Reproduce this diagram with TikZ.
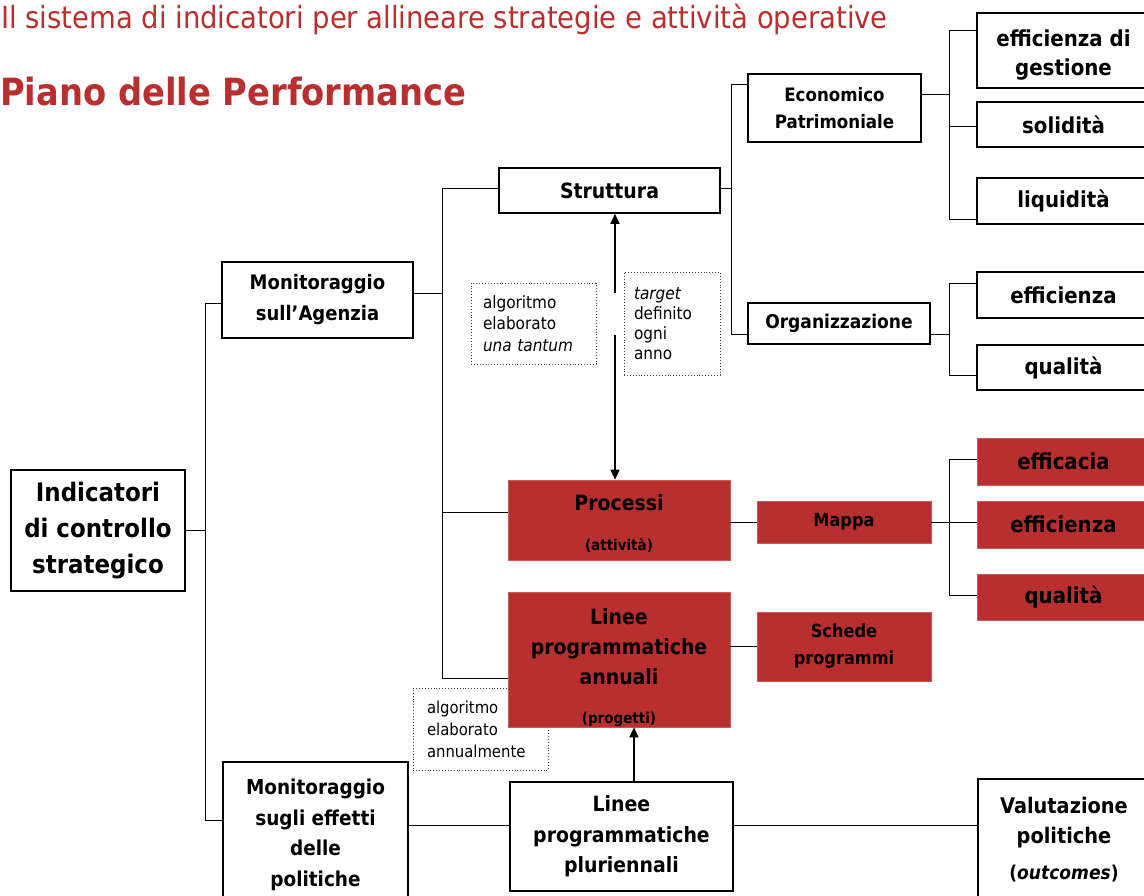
\documentclass[tikz,border=0pt]{standalone}
\usepackage{fontspec}
\setmainfont{DejaVu Sans Condensed}
\usetikzlibrary{arrows.meta}
\definecolor{pred}{RGB}{185,47,47}
\newcommand{\fs}[2]{\fontsize{#1}{#2}\selectfont}
\begin{document}
\begin{tikzpicture}[x=1pt,y=-1pt,
  f/.style n args={2}{font=\bfseries\fontsize{#1}{#2}\selectfont},
  wbox/.style={draw=black,line width=1.6pt,fill=white,align=center,inner sep=0pt},
  rbox/.style={draw=pred!80!white,line width=0.6pt,fill=pred,align=center,inner sep=0pt},
  txt/.style={align=center,inner sep=0pt},
  note/.style={draw=black!75,dotted,line width=0.9pt,align=left,inner ysep=0pt,font=\fontsize{17}{21.5}\selectfont},
  conn/.style={line width=1pt,black},
  arr/.style={line width=1.5pt,black,-{Triangle[length=10pt,width=9pt]}},
  ]
\useasboundingbox (0,0) rectangle (1144,895);
\clip (0,0) rectangle (1144,895);

% titles
\node[anchor=base west,inner sep=0pt,text=pred,font=\fontsize{30.5}{34}\selectfont] (t1) at (1,28)
  {Il sistema di indicatori per allineare strategie e attività operative};
\node[anchor=base west,inner sep=0pt,text=pred,font=\bfseries\fontsize{37.5}{42}\selectfont] (t2) at (0,105)
  {Piano delle Performance};

% notes (behind boxes)
\node[note,inner xsep=12pt,text width=101,minimum height=81] (n1) at (533.5,323.5) {algoritmo\\elaborato\\\textit{una tantum}};
\node[note,inner xsep=10pt,text width=76,minimum height=103,font=\fontsize{17}{20}\selectfont] (n2) at (672,323.5) {\textit{target}\\definito\\ogni\\anno};
\node[note,inner xsep=14pt,text width=107,minimum height=82,font=\fontsize{16.5}{22}\selectfont] (n3) at (480.5,729) {algoritmo\\elaborato\\annualmente};

% white boxes
\node[wbox,f={25.5}{36},minimum width=174,minimum height=121] (ind) at (98,530.5) {Indicatori\\di controllo\\strategico};
\node[wbox,f={20}{31},minimum width=191,minimum height=76] (mon1) at (317.5,300) {Monitoraggio\\sull’Agenzia};
\node[wbox,f={20.5}{30.5},minimum width=185,minimum height=146] (mon2) at (315.5,835) {Monitoraggio\\sugli effetti\\delle\\politiche};
\node[wbox,f={21}{28},minimum width=221,minimum height=45] (str) at (609.5,190.5) {Struttura};
\node[wbox,f={18.5}{27},minimum width=173,minimum height=68] (eco) at (834.5,108) {Economico\\Patrimoniale};
\node[wbox,f={19}{25},minimum width=182,minimum height=41] (org) at (839,323.5) {Organizzazione};
\node[wbox,minimum width=173,minimum height=75] (egest) at (1063.5,50.5) {};
\node[txt,f={22}{29}] (egestt) at (1063.5,55.5) {efficienza di\\gestione};
\node[wbox,f={22}{29},minimum width=173,minimum height=45] (sol) at (1063.5,124.5) {solidità};
\node[wbox,f={22}{29},minimum width=173,minimum height=46] (liq) at (1063.5,201) {liquidità};
\node[wbox,f={22}{29},minimum width=173,minimum height=46] (eff1) at (1063.5,295) {efficienza};
\node[wbox,f={22}{29},minimum width=173,minimum height=45] (qual1) at (1063.5,367.5) {qualità};
\node[wbox,f={21}{30.5},minimum width=223,minimum height=109] (lpp) at (621.5,836.5) {Linee\\programmatiche\\pluriennali};
\node[wbox,f={21.5}{30},minimum width=172,minimum height=121] (val) at (1064,839.5) {Valutazione\\politiche\\[6pt]{\fs{19}{22}(\textit{outcomes})}};

% red boxes
\node[rbox,minimum width=222,minimum height=80] (proc) at (619,520) {};
\node[txt,f={21}{28}] (proct) at (619,524) {Processi\\[12pt]{\fs{15}{18}(attività)}};
\node[rbox,f={18}{24},minimum width=174,minimum height=42] (mappa) at (844,522) {Mappa};
\node[rbox,f={22}{29},minimum width=173,minimum height=47] (effic) at (1063.5,461.5) {efficacia};
\node[rbox,f={22}{29},minimum width=173,minimum height=47] (eff2) at (1063.5,524.5) {efficienza};
\node[rbox,f={22}{29},minimum width=173,minimum height=46] (qual2) at (1063.5,597) {qualità};
\node[rbox,minimum width=222,minimum height=135] (lpa) at (619,659.5) {};
\node[txt,f={21}{30}] (lpat) at (619,668) {Linee\\programmatiche\\annuali\\[9pt]{\fs{15}{18}(progetti)}};
\node[rbox,f={18}{27},minimum width=174,minimum height=69] (sched) at (844,646.5) {Schede\\programmi};

% bus A
\coordinate (a1) at (205,303);
\coordinate (a2) at (205,820);
\draw[conn] (mon1.west |- a1) -- (a1) -- (a2) -- (mon2.west |- a2);
\draw[conn] (ind.east) -- (ind.east -| a1);

% bus B
\coordinate (b1) at (442,188);
\coordinate (b2) at (442,678);
\coordinate (bm) at (442,293);
\coordinate (bp) at (442,512);
\draw[conn] (str.west |- b1) -- (b1) -- (b2) -- (lpa.west |- b2);
\draw[conn] (mon1.east |- bm) -- (bm);
\draw[conn] (proc.west |- bp) -- (bp);

% bus C
\coordinate (c0) at (731,188);
\coordinate (c1) at (731,84);
\coordinate (c2) at (731,334);
\draw[conn] (str.east |- c0) -- (c0);
\draw[conn] (eco.west |- c1) -- (c1) -- (c2) -- (org.west |- c2);

% bus D
\coordinate (d0) at (949,94);
\coordinate (d1) at (949,30);
\coordinate (d2) at (949,126);
\coordinate (d3) at (949,219);
\draw[conn] (eco.east |- d0) -- (d0);
\draw[conn] (egest.west |- d1) -- (d1) -- (d3) -- (liq.west |- d3);
\draw[conn] (d2) -- (sol.west |- d2);

% bus E
\coordinate (e0) at (949,334);
\coordinate (e1) at (949,283);
\coordinate (e2) at (949,375);
\draw[conn] (org.east |- e0) -- (e0);
\draw[conn] (eff1.west |- e1) -- (e1) -- (e2) -- (qual1.west |- e2);

% bus F
\coordinate (f0) at (949,522);
\coordinate (f1) at (949,459);
\coordinate (f2) at (949,595);
\draw[conn] (mappa.east |- f0) -- (eff2.west |- f0);
\draw[conn] (effic.west |- f1) -- (f1) -- (f2) -- (qual2.west |- f2);

% direct links
\draw[conn] (proc.east |- mappa.west) -- (mappa.west);
\draw[conn] (lpa.east |- sched.west) -- (sched.west);
\coordinate (g) at (460,825);
\draw[conn] (mon2.east |- g) -- (lpp.west |- g);
\draw[conn] (lpp.east |- g) -- (val.west |- g);

% arrows
\coordinate (v1) at (615,293);
\coordinate (v2) at (615,335);
\draw[arr] (v1) -- (str.south -| v1);
\draw[arr] (v2) -- (proc.north -| v2);
\coordinate (w) at (634,0);
\draw[arr] (lpp.north -| w) -- (lpa.south -| w);
\end{tikzpicture}
\end{document}
